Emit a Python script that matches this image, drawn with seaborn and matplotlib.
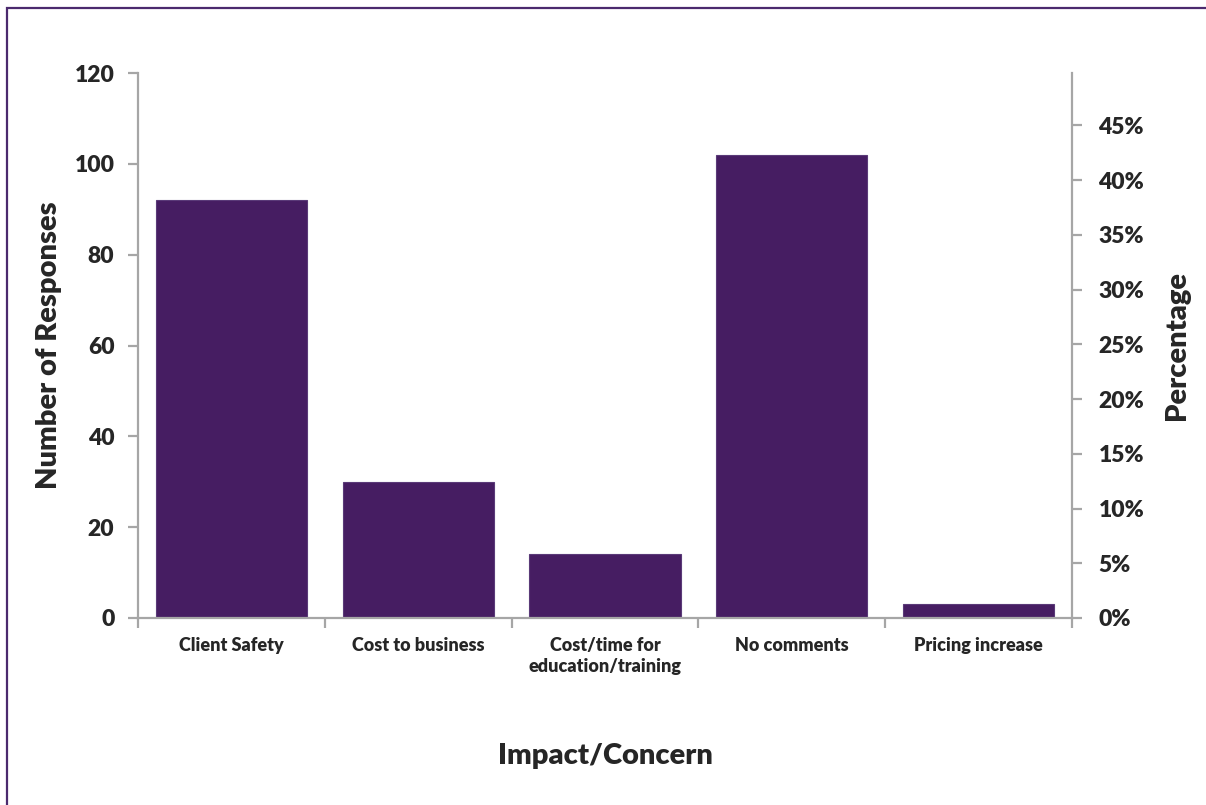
import matplotlib
matplotlib.use('Agg')
import matplotlib.pyplot as plt
import numpy as np
import pandas as pd
import seaborn as sns
from matplotlib.patches import Rectangle
from matplotlib.ticker import FixedLocator, PercentFormatter

CATEGORIES = ['Client Safety', 'Cost to business', 'Cost/time for\neducation/training',
              'No comments', 'Pricing increase']
RESPONSES = [92, 30, 14, 102, 3]
LEFT_TICKS = [0, 20, 40, 60, 80, 100, 120]
PCT_TICKS = [0, 0.05, 0.10, 0.15, 0.20, 0.25, 0.30, 0.35, 0.40, 0.45]

BAR_COLOR = '#461d62'
AXIS_GRAY = '#a6a6a6'
WEIGHT = 800

if __name__ == '__main__':
    sns.set_style('white')
    plt.rcParams['font.family'] = ['Lato', 'DejaVu Sans']

    df = pd.DataFrame({'Concern': CATEGORIES, 'Responses': RESPONSES})
    total = df['Responses'].sum()

    fig = plt.figure(figsize=(12.06, 8.05), dpi=100)
    ax = fig.add_axes([138 / 1206, 1 - 618 / 805, (1072 - 138) / 1206, (618 - 73) / 805])

    sns.barplot(data=df, x='Concern', y='Responses', color=BAR_COLOR, width=0.81,
                saturation=1, edgecolor='#5a3a78', linewidth=0.8, ax=ax)
    ax.set_xlim(-0.5, len(CATEGORIES) - 0.5)
    ax.set_ylim(0, 120)
    ax.set_yticks(LEFT_TICKS)

    for side in ['top', 'right']:
        ax.spines[side].set_visible(False)
    for side in ['left', 'bottom']:
        ax.spines[side].set_color(AXIS_GRAY)
        ax.spines[side].set_linewidth(1.6)

    ax.tick_params(axis='y', which='major', left=True, direction='out', length=7,
                   width=1.6, color=AXIS_GRAY, labelsize=16.5, pad=10)
    ax.tick_params(axis='x', which='major', length=0, labelsize=13, pad=14)
    ax.xaxis.set_minor_locator(FixedLocator(np.arange(-0.5, len(CATEGORIES), 1.0)))
    ax.tick_params(axis='x', which='minor', bottom=True, direction='out', length=7,
                   width=1.6, color=AXIS_GRAY)
    for lab in ax.get_xticklabels() + ax.get_yticklabels():
        lab.set_fontweight(WEIGHT)
    for lab in ax.get_xticklabels():
        lab.set_linespacing(1.25)

    ax.set_xlabel('Impact/Concern', fontsize=21, fontweight=WEIGHT)
    ax.xaxis.set_label_coords(0.5, -0.229)
    ax.set_ylabel('Number of Responses', fontsize=21, fontweight=WEIGHT)
    ax.yaxis.set_label_coords(-0.081, 0.5)

    # secondary axis: share of all responses
    ax2 = ax.twinx()
    ax2.set_ylim(0, 120 / total)
    ax2.set_yticks(PCT_TICKS)
    ax2.yaxis.set_major_formatter(PercentFormatter(1.0, decimals=0))
    for side in ['top', 'left', 'bottom']:
        ax2.spines[side].set_visible(False)
    ax2.spines['right'].set_color(AXIS_GRAY)
    ax2.spines['right'].set_linewidth(1.6)
    ax2.tick_params(axis='y', right=True, direction='out', length=7, width=1.6,
                    color=AXIS_GRAY, labelsize=16.5, pad=12)
    for lab in ax2.get_yticklabels():
        lab.set_fontweight(WEIGHT)
    ax2.set_ylabel('Percentage', fontsize=21, fontweight=WEIGHT)
    ax2.yaxis.set_label_coords(1.0985, 0.5)

    # chart frame
    fig.patches.append(Rectangle((7 / 1206, -0.05), 1.2, 1 - 8 / 805 + 0.05,
                                 transform=fig.transFigure, fill=False,
                                 edgecolor='#4b2a6e', linewidth=1.6))

    fig.savefig('out.png', dpi=100)
